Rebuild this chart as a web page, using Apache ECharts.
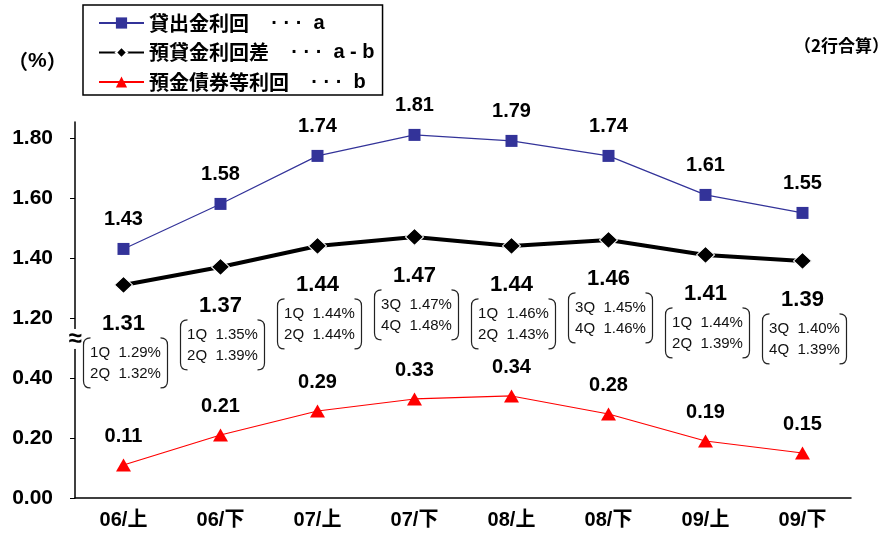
<!DOCTYPE html>
<html>
<head>
<meta charset="utf-8">
<script src="https://cdn.jsdelivr.net/npm/echarts@6/dist/echarts.min.js"></script>
<style>
  html, body { margin: 0; padding: 0; background: #fff; }
  #chart { width: 891px; height: 538px; }
</style>
</head>
<body>
<div id="chart"></div>
<script>
// Half-year periods
const periods = ['06/上', '06/下', '07/上', '07/下', '08/上', '08/下', '09/上', '09/下'];

// 貸出金利回 (a), 預貸金利回差 (a - b), 預金債券等利回 (b), in %
const loanYield   = [1.43, 1.58, 1.74, 1.81, 1.79, 1.74, 1.61, 1.55];
const spread      = [1.31, 1.37, 1.44, 1.47, 1.44, 1.46, 1.41, 1.39];
const fundingCost = [0.11, 0.21, 0.29, 0.33, 0.34, 0.28, 0.19, 0.15];

// Quarterly breakdown of the spread for each half-year
const quarterNames = [['1Q', '2Q'], ['1Q', '2Q'], ['1Q', '2Q'], ['3Q', '4Q'],
                      ['1Q', '2Q'], ['3Q', '4Q'], ['1Q', '2Q'], ['3Q', '4Q']];
const spreadQ1 = [1.29, 1.35, 1.44, 1.47, 1.46, 1.45, 1.44, 1.40];
const spreadQ2 = [1.32, 1.39, 1.44, 1.48, 1.43, 1.46, 1.39, 1.39];

// Value-axis tick labels (the axis is broken between 0.40 and 1.20)
const yTickLabels = [0.00, 0.20, 0.40, 1.20, 1.40, 1.60, 1.80];

const seriesNames = ['貸出金利回', '預貸金利回差', '預金債券等利回'];
const legendSuffix = { '貸出金利回': 'a', '預貸金利回差': 'a - b', '預金債券等利回': 'b' };

// Broken axis: values up to BREAK_LOW are plotted as they are; values from
// BREAK_HIGH upward are shifted down so that BREAK_HIGH sits one step above BREAK_LOW.
const BREAK_LOW = 0.4, BREAK_HIGH = 1.2, STEP = 0.2;
const SHIFT = BREAK_HIGH - BREAK_LOW - STEP;
const toAxis = v => (v > (BREAK_LOW + BREAK_HIGH) / 2 ? v - SHIFT : v);
const fromAxis = a => (a > BREAK_LOW + 1e-9 ? a + SHIFT : a);

const LATIN = "'Liberation Sans', Arial, sans-serif";
const CJK = "'Noto Sans CJK JP', 'Liberation Sans', sans-serif";
const MIXED = "'Liberation Sans', 'Noto Sans CJK JP', sans-serif";

const GRID = { left: 75, right: 40, top: 122, bottom: 40, containLabel: false };

const chart = echarts.init(document.getElementById('chart'), null, { renderer: 'canvas' });

const axisTicks = yTickLabels.map(toAxis);
const axisTop = toAxis(1.853);

// Bracketed quarterly figures drawn under each spread point
function renderQuarterBox(params, api) {
  const i = params.dataIndex;
  const pt = api.coord([api.value(0), api.value(1)]);
  const w = 84, h = 50, r = 7;
  const cx = pt[0] + 2;
  const x0 = cx - w / 2, x1 = cx + w / 2;
  const y0 = pt[1] + 53, y1 = y0 + h;
  const leftPath = `M${x0 + r} ${y0} Q${x0} ${y0} ${x0} ${y0 + r} L${x0} ${y1 - r} Q${x0} ${y1} ${x0 + r} ${y1}`;
  const rightPath = `M${x1 - r} ${y0} Q${x1} ${y0} ${x1} ${y0 + r} L${x1} ${y1 - r} Q${x1} ${y1} ${x1 - r} ${y1}`;
  const lineStyle = { fill: 'none', stroke: '#222', lineWidth: 1.2 };
  const textStyle = (txt) => ({
    text: txt, fontSize: 15, fontFamily: LATIN, fill: '#111',
    align: 'center', verticalAlign: 'middle'
  });
  return {
    type: 'group',
    children: [
      { type: 'path', shape: { pathData: leftPath }, style: lineStyle },
      { type: 'path', shape: { pathData: rightPath }, style: lineStyle },
      { type: 'text', x: cx, y: y0 + 15, style: textStyle(quarterNames[i][0] + '  ' + spreadQ1[i].toFixed(2) + '%') },
      { type: 'text', x: cx, y: y0 + 36, style: textStyle(quarterNames[i][1] + '  ' + spreadQ2[i].toFixed(2) + '%') }
    ]
  };
}

const option = {
  backgroundColor: '#fff',
  animation: false,
  grid: GRID,
  legend: {
    orient: 'vertical',
    left: 83, top: 5,
    padding: [8, 8, 3, 15],
    itemGap: 9.5,
    itemWidth: 45,
    itemHeight: 14,
    borderColor: '#000',
    borderWidth: 1.5,
    backgroundColor: '#fff',
    data: seriesNames,
    formatter: name => `{n|${name}}{d|    · · ·  ${legendSuffix[name]}}`,
    textStyle: {
      rich: {
        n: { fontSize: 20, fontWeight: 'bold', fontFamily: CJK, color: '#000', lineHeight: 22 },
        d: { fontSize: 20, fontWeight: 'bold', fontFamily: LATIN, color: '#000', lineHeight: 22 }
      }
    }
  },
  xAxis: {
    type: 'category',
    data: periods,
    boundaryGap: true,
    axisLine: { lineStyle: { color: '#000', width: 1.5 } },
    axisTick: { inside: true, length: 8, lineStyle: { color: '#000', width: 1 } },
    axisLabel: { margin: 12, fontSize: 20, fontWeight: 'bold', fontFamily: MIXED, color: '#000' }
  },
  yAxis: {
    type: 'value',
    min: 0,
    max: axisTop,
    interval: STEP,
    splitLine: { show: false },
    axisLine: { show: true, lineStyle: { color: '#000', width: 1.5 } },
    axisTick: { show: true, length: 5, customValues: axisTicks, lineStyle: { color: '#000', width: 1 } },
    axisLabel: {
      customValues: axisTicks,
      margin: 22,
      fontSize: 21, fontWeight: 'bold', fontFamily: LATIN, color: '#000',
      formatter: v => fromAxis(v).toFixed(2)
    }
  },
  series: [
    {
      name: seriesNames[0],
      type: 'line',
      data: loanYield.map(toAxis),
      symbol: 'rect',
      symbolSize: 12,
      itemStyle: { color: '#333399' },
      lineStyle: { color: '#333399', width: 1.2 },
      label: {
        show: true, position: 'top', distance: 13,
        fontSize: 20, fontWeight: 'bold', fontFamily: LATIN, color: '#000',
        formatter: p => loanYield[p.dataIndex].toFixed(2)
      },
      z: 3
    },
    {
      name: seriesNames[1],
      type: 'line',
      data: spread.map(toAxis),
      symbol: 'diamond',
      symbolSize: [18, 17],
      itemStyle: { color: '#000', borderColor: '#fff', borderWidth: 1 },
      lineStyle: { color: '#000', width: 4 },
      label: {
        show: true, position: 'bottom', distance: 19,
        fontSize: 22, fontWeight: 'bold', fontFamily: LATIN, color: '#000',
        formatter: p => spread[p.dataIndex].toFixed(2)
      },
      z: 4
    },
    {
      name: seriesNames[2],
      type: 'line',
      data: fundingCost.map(toAxis),
      symbol: 'triangle',
      symbolSize: [15, 13],
      itemStyle: { color: '#ff0000' },
      lineStyle: { color: '#ff0000', width: 1.2 },
      label: {
        show: true, position: 'top', distance: 12,
        fontSize: 20, fontWeight: 'bold', fontFamily: LATIN, color: '#000',
        formatter: p => fundingCost[p.dataIndex].toFixed(2)
      },
      z: 3
    },
    {
      name: 'quarters',
      type: 'custom',
      data: spread.map((v, i) => [i, toAxis(v)]),
      renderItem: renderQuarterBox,
      silent: true,
      z: 5
    }
  ]
};

chart.setOption(option);

// Break marker on the value axis, plus unit and scope notes
const axisX = GRID.left;
const breakY = chart.convertToPixel({ yAxisIndex: 0 }, BREAK_LOW + STEP * 0.65);
chart.setOption({
  graphic: [
    { type: 'rect', shape: { x: axisX - 4, y: breakY - 10, width: 8, height: 20 }, style: { fill: '#fff' }, z: 10 },
    { type: 'text', x: axisX, y: breakY, z: 11,
      style: { text: '≈', fontSize: 24, fontWeight: 'bold', fontFamily: LATIN, fill: '#000', align: 'center', verticalAlign: 'middle' } },
    { type: 'text', left: 8, top: 51, z: 11,
      style: {
        text: '{p|（}{c|%}{p|）}',
        rich: {
          p: { fontSize: 20, fontWeight: 'bold', fontFamily: CJK, fill: '#000' },
          c: { fontSize: 21, fontWeight: 'bold', fontFamily: LATIN, fill: '#000' }
        }
      } },
    { type: 'text', right: 2, top: 37, z: 11,
      style: { text: '（2行合算）', fontSize: 17, fontWeight: 'bold', fontFamily: CJK, fill: '#000' } }
  ]
});
</script>
</body>
</html>
